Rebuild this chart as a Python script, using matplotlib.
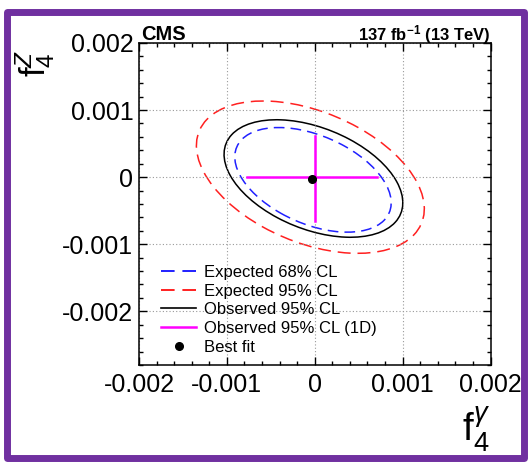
import matplotlib
matplotlib.use('Agg')
import matplotlib.pyplot as plt
from matplotlib.patches import Ellipse, Rectangle
from matplotlib.lines import Line2D
from matplotlib.ticker import MultipleLocator

plt.rcParams['font.family'] = ['Liberation Sans', 'DejaVu Sans']
plt.rcParams['mathtext.fontset'] = 'custom'
plt.rcParams['mathtext.rm'] = 'Liberation Sans'
plt.rcParams['mathtext.it'] = 'Liberation Sans:italic'
plt.rcParams['mathtext.bf'] = 'Liberation Sans:bold'
plt.rcParams['axes.unicode_minus'] = False

# 2D contours (ellipse parameters)
contour_labels = ['Expected 68% CL', 'Expected 95% CL', 'Observed 95% CL']
contour_colors = ['#2020ff', '#ff2020', 'black']
contour_cx = [-0.00002, -0.00005, -0.000015]
contour_cy = [-0.00004, 0.0, -0.00002]
contour_w = [0.002018, 0.002917, 0.002273]
contour_h = [0.001236, 0.001837, 0.001428]
contour_angle = [-36.6, -36.1, -35.0]

# 1D intervals
fa4_interval = [-0.00077, 0.00071]
fz4_interval = [-0.00065, 0.00061]
best_fit = [-0.00003, -0.00002]

xticks = [-0.002, -0.001, 0, 0.001, 0.002]
xtick_labels = ['-0.002', '-0.001', '0', '0.001', '0.002']
yticks = [-0.002, -0.001, 0, 0.001, 0.002]
ytick_labels = ['-0.002', '-0.001', '0', '0.001', '0.002']

fig = plt.figure(figsize=(5.30, 4.62), dpi=100)
ax = fig.add_axes([139 / 530, 1 - 365 / 462, (490.5 - 139) / 530, (365 - 43) / 462])

dashes = [(0, (7, 4)), (0, (8.5, 4.5)), 'solid']
for i in range(3):
    e = Ellipse((contour_cx[i], contour_cy[i]), contour_w[i], contour_h[i],
                angle=contour_angle[i], fill=False, edgecolor=contour_colors[i],
                linewidth=1.1, linestyle=dashes[i])
    ax.add_patch(e)

ax.plot(fa4_interval, [0, 0], color='magenta', lw=1.8)
ax.plot([0, 0], fz4_interval, color='magenta', lw=1.8)
ax.plot(best_fit[0], best_fit[1], 'o', color='black', ms=5.5)

ax.set_xlim(-0.002, 0.002)
ax.set_ylim(-0.0028, 0.002)
ax.set_xticks(xticks, xtick_labels)
ax.set_yticks(yticks, ytick_labels)
ax.xaxis.set_minor_locator(MultipleLocator(0.0002))
ax.yaxis.set_minor_locator(MultipleLocator(0.0002))
ax.tick_params(which='both', direction='in', top=True, right=True, labelsize=18)
ax.tick_params(which='major', length=6, width=1)
ax.tick_params(which='minor', length=3, width=1)
ax.tick_params(axis='x', pad=6)
ax.tick_params(axis='y', pad=4)
for s in ax.spines.values():
    s.set_linewidth(1.1)
ax.grid(True, which='major', linestyle=(0, (1, 2)), color='#999999', lw=0.8)

ax.set_xlabel(r'$\mathrm{f}_{4}^{\gamma}$', fontsize=28, loc='right')
ax.xaxis.set_label_coords(1.0, -0.125)
ax.set_ylabel(r'$\mathrm{f}_{4}^{Z}$', fontsize=25, loc='top')
ax.yaxis.set_label_coords(-0.233, 0.98)

ax.text(0.005, 1.009, 'CMS', transform=ax.transAxes, fontsize=14.5,
        fontweight='bold', ha='left', va='baseline')
ax.text(1.0, 1.009, r'137 fb$^{\mathbf{-1}}$ (13 TeV)', transform=ax.transAxes,
        fontsize=12, fontweight='bold', ha='right', va='baseline')

handles = [
    Line2D([], [], color=contour_colors[0], lw=1.4, linestyle=(0, (7, 4))),
    Line2D([], [], color=contour_colors[1], lw=1.4, linestyle=(0, (7, 4))),
    Line2D([], [], color='black', lw=1.2),
    Line2D([], [], color='magenta', lw=1.8),
    Line2D([], [], color='black', marker='o', ms=5.5, lw=0),
]
labels = contour_labels + ['Observed 95% CL (1D)', 'Best fit']
ax.legend(handles, labels, loc='upper left', bbox_to_anchor=(0.063, 0.311),
          frameon=False, fontsize=12, borderpad=0, borderaxespad=0,
          labelspacing=0.22, handlelength=2.1, handletextpad=0.5)

# purple frame around the picture
fig.patches.append(Rectangle((6.5 / 530, 1 - 457.5 / 462), (523.5 - 6.5) / 530,
                             (457.5 - 11.5) / 462, transform=fig.transFigure,
                             fill=False, edgecolor='#7030a0', linewidth=5,
                             joinstyle='round'))

fig.savefig('out.png', dpi=100)
